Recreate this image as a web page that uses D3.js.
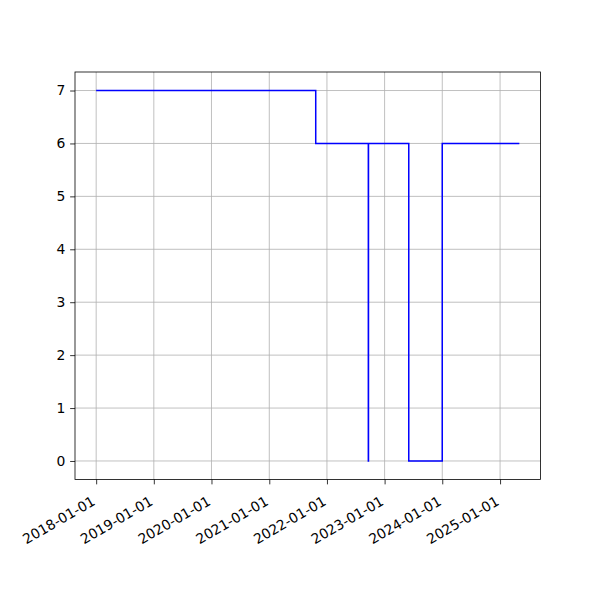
<!DOCTYPE html>
<html><head><meta charset="utf-8">
<script src="https://d3js.org/d3.v7.min.js"></script>
<style>body{margin:0;background:#fff}</style>
</head><body>
<script>
const dates = ["2018-01-01","2021-10-22","2022-09-20","2022-09-21","2023-06-03","2024-01-01","2025-05-03"];
const values = [7,6,0,6,0,6,6];
const xTickLabels = ["2018-01-01","2019-01-01","2020-01-01","2021-01-01","2022-01-01","2023-01-01","2024-01-01","2025-01-01"];
const yTicks = [0,1,2,3,4,5,6,7];

const W=600,H=600;
const L=75,R=540.5,T=72,B=479.5;
const parse=d3.utcParse("%Y-%m-%d");
const data=dates.map((d,i)=>({t:parse(d),v:values[i]}));
const [t0,t1]=d3.extent(data,d=>d.t);
const span=t1-t0;
const x=d3.scaleUtc().domain([new Date(+t0-span*0.05),new Date(+t1+span*0.05)]).range([L,R]);
const y=d3.scaleLinear().domain([-0.35,7.35]).range([B,T]);

const svg=d3.select("body").append("svg").attr("width",W).attr("height",H)
  .style("font-family","DejaVu Sans");
const xt=xTickLabels.map(parse);

// grid
const g=svg.append("g").attr("stroke","#b0b0b0").attr("stroke-width",0.8);
g.selectAll(".gx").data(xt).join("line").attr("x1",d=>x(d)).attr("x2",d=>x(d)).attr("y1",T).attr("y2",B);
g.selectAll(".gy").data(yTicks).join("line").attr("y1",d=>y(d)).attr("y2",d=>y(d)).attr("x1",L).attr("x2",R);

// line
const line=d3.line().x(d=>x(d.t)).y(d=>y(d.v)).curve(d3.curveStepAfter);
svg.append("path").datum(data).attr("d",line).attr("fill","none").attr("stroke","#0000ff").attr("stroke-width",1.5);

// axes
const xAxis=d3.axisBottom(x).tickValues(xt).tickFormat(d3.utcFormat("%Y-%m-%d")).tickSize(4.86).tickPadding(4.86);
const ax=svg.append("g").attr("transform",`translate(0,${B})`).call(xAxis);
ax.select(".domain").remove();
ax.selectAll("line").attr("stroke","#000").attr("stroke-width",0.8);
ax.selectAll("text").attr("font-size","13.9px").attr("fill","#000").attr("font-family","DejaVu Sans")
  .attr("text-anchor","end").attr("dy",null).attr("y",null)
  .attr("transform","translate(1,27) rotate(-30)").attr("dy","-0.2em");

const yAxis=d3.axisLeft(y).tickValues(yTicks).tickFormat(d3.format("d")).tickSize(4.86).tickPadding(4.86);
const ay=svg.append("g").attr("transform",`translate(${L},0)`).call(yAxis);
ay.select(".domain").remove();
ay.selectAll("line").attr("stroke","#000").attr("stroke-width",0.8);
ay.selectAll("text").attr("font-size","13.9px").attr("fill","#000").attr("font-family","DejaVu Sans");

svg.append("rect").attr("x",L).attr("y",T).attr("width",R-L).attr("height",B-T)
  .attr("fill","none").attr("stroke","#000").attr("stroke-width",0.8);
</script>
</body></html>
